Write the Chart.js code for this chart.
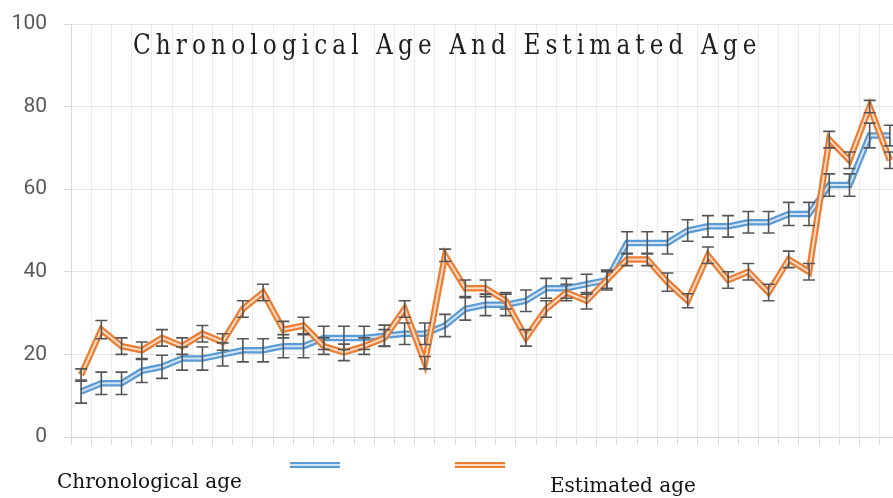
<!DOCTYPE html>
<html>
<head>
<meta charset="utf-8">
<script src="https://cdn.jsdelivr.net/npm/chart.js@4.4.1/dist/chart.umd.min.js"></script>
<style>
  html, body { margin: 0; padding: 0; background: #fff; overflow: hidden; }
  #wrap { position: relative; width: 900px; height: 498px; }
  #title {
    position: absolute; left: 133px; top: 29px;
    font-family: "DejaVu Serif", serif;
    font-size: 27px; letter-spacing: 5.9px; color: #1e1e1e; white-space: nowrap;
    transform: scaleX(0.86); transform-origin: left top;
  }
  .axisLabel {
    position: absolute;
    font-family: "DejaVu Serif", serif;
    font-size: 20px; color: #111; white-space: nowrap;
  }
  .swatch { position: absolute; width: 50px; height: 2px; }
</style>
</head>
<body>
<div id="wrap">
  <canvas id="Chart"></canvas>
  <div id="title">Chronological Age And Estimated Age</div>
  <div class="axisLabel" id="lab0" style="left:57px; top:469px;"></div>
  <div class="axisLabel" id="lab1" style="left:550px; top:473px;"></div>
  <div class="swatch" id="sw0" style="left:290px; top:462px;"></div>
  <div class="swatch" id="sw1" style="left:455px; top:462px;"></div>
</div>
<script>
// subjects along the x axis (no tick labels shown)
const subjects = ["1","2","3","4","5","6","7","8","9","10","11","12","13","14","15","16","17","18","19","20",
  "21","22","23","24","25","26","27","28","29","30","31","32","33","34","35","36","37","38","39","40","41"];

const seriesNames = ["Chronological age", "Estimated age"];

const chronological = [11, 13, 13, 16, 17, 19, 19, 20, 21, 21, 22, 22, 24, 24, 24, 24.5, 25, 25, 27, 31, 32,
  32, 33, 36, 36, 37, 38, 47, 47, 47, 50, 51, 51, 52, 52, 54, 54, 61, 61, 73, 73];
const estimated = [15, 26, 22, 21, 24, 22, 25, 23, 31, 35, 26, 27, 22, 20.5, 22, 24, 31, 18, 44, 36, 36,
  33, 24, 31, 35, 33, 38, 43, 43, 37.5, 33, 44, 38, 40, 35, 43, 40, 72, 67, 80, 67];

// error bar half sizes
const chronoErr = [2.8, 2.7, 2.7, 2.8, 2.8, 2.8, 2.8, 2.8, 2.8, 2.8, 2.8, 2.8, 2.8, 2.8, 2.8, 2.6, 2.6, 2.6, 2.7, 2.7, 2.6,
  2.6, 2.6, 2.4, 2.4, 2.4, 2.4, 2.7, 2.7, 2.7, 2.6, 2.6, 2.6, 2.6, 2.6, 2.8, 2.8, 2.7, 2.7, 3, 2.5];
const estimatedErr = [1.5, 2.2, 2, 2, 2, 2, 2, 2, 2, 2, 2, 2, 2, 2, 2, 2, 2, 1.5, 1.5, 2, 2,
  2, 2, 2, 2, 2, 2, 1.5, 1.5, 2.2, 1.7, 2, 2, 2, 2, 2, 2, 2, 2, 1.5, 2];

const blue = '#5b9bd5', blueInner = '#d2e3f3';
const orange = '#ed7d31', orangeInner = '#fbdcc7';

// labels + legend swatches under the chart
document.getElementById('lab0').textContent = seriesNames[0];
document.getElementById('lab1').textContent = seriesNames[1];
document.getElementById('sw0').style.cssText += `background:${blueInner};border-top:2px solid ${blue};border-bottom:2px solid ${blue};`;
document.getElementById('sw1').style.cssText += `background:${orangeInner};border-top:2px solid ${orange};border-bottom:2px solid ${orange};`;

function lineSet(label, values, color, width, order, errors) {
  return {
    label: label,
    data: values,
    borderColor: color,
    backgroundColor: color,
    borderWidth: width,
    pointRadius: 0,
    tension: 0,
    fill: false,
    order: order,
    errors: errors
  };
}

const data = {
  labels: subjects,
  datasets: [
    lineSet(seriesNames[0], chronological, blue, 6.5, 4, chronoErr),
    lineSet(seriesNames[0], chronological, blueInner, 2, 3, null),
    lineSet(seriesNames[1], estimated, orange, 6.5, 2, estimatedErr),
    lineSet(seriesNames[1], estimated, orangeInner, 2, 1, null)
  ]
};

// draws the error bars with caps
const errorBars = {
  id: 'errorBars',
  afterDatasetsDraw(chart) {
    const ctx = chart.ctx;
    const x = chart.scales.x, y = chart.scales.y;
    ctx.save();
    ctx.strokeStyle = '#555555';
    ctx.lineWidth = 1.6;
    chart.data.datasets.forEach(ds => {
      if (!ds.errors) return;
      ds.data.forEach((v, i) => {
        const px = x.getPixelForValue(i);
        const top = y.getPixelForValue(v + ds.errors[i]);
        const bot = y.getPixelForValue(v - ds.errors[i]);
        ctx.beginPath();
        ctx.moveTo(px, top); ctx.lineTo(px, bot);
        ctx.moveTo(px - 6, top); ctx.lineTo(px + 6, top);
        ctx.moveTo(px - 6, bot); ctx.lineTo(px + 6, bot);
        ctx.stroke();
      });
    });
    ctx.restore();
  }
};

const config = {
  type: 'line',
  data: data,
  options: {
    responsive: true,
    maintainAspectRatio: false,
    animation: false,
    layout: { padding: { top: 24, right: 0, bottom: 0, left: 0 } },
    scales: {
      x: {
        offset: true,
        grid: { offset: true, color: '#ececec', tickLength: 8, tickColor: '#d9d9d9' },
        border: { color: '#d9d9d9' },
        ticks: { display: false },
        afterFit: scale => { scale.height = 61; }
      },
      y: {
        min: 0,
        max: 100,
        ticks: {
          stepSize: 20,
          padding: 17,
          color: '#595959',
          font: { family: 'Roboto', size: 21 }
        },
        grid: { color: '#e6e6e6', tickLength: 7, tickColor: '#d9d9d9' },
        border: { color: '#d9d9d9' },
        afterFit: scale => { scale.width = 71; scale.paddingTop = 0; scale.paddingBottom = 0; }
      }
    },
    plugins: {
      legend: { display: false },
      tooltip: { enabled: false }
    }
  },
  plugins: [errorBars]
};

window.addEventListener('load', () => {
  const ctx = document.getElementById('Chart');
  new Chart(ctx, config);
});
</script>
</body>
</html>
